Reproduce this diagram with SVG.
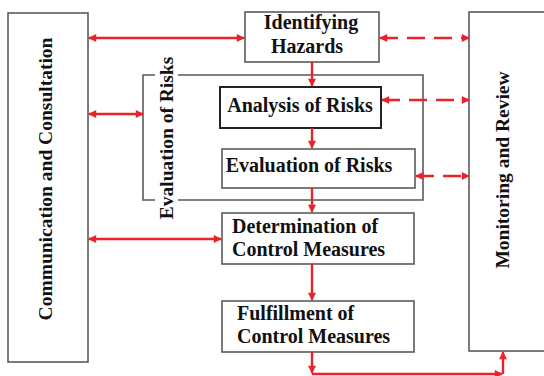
<svg xmlns="http://www.w3.org/2000/svg" width="544" height="376" viewBox="0 0 544 376">
<defs>
<style>
.box{fill:#fff;stroke:#5a5a5a;stroke-width:1.6}
.dark{fill:#fff;stroke:#222;stroke-width:2}
.t{font-family:"Liberation Serif","Times New Roman",serif;font-weight:bold;font-size:19.5px;fill:#111}
.b{font-size:20px}
.c{stroke:#e8232a;stroke-width:2.4;fill:none}
.d{stroke:#e8232a;stroke-width:2.4;fill:none;stroke-dasharray:18 9}
</style>
<marker id="ah" viewBox="0 0 10 10" refX="9" refY="5" markerWidth="9" markerHeight="8" markerUnits="userSpaceOnUse" orient="auto-start-reverse">
<path d="M0,0 L10,5 L0,10 z" fill="#e8232a"/>
</marker>
</defs>
<rect width="544" height="376" fill="#fff"/>

<g id="communication">
<rect class="box" x="8" y="13" width="80" height="349"/>
<text class="t" transform="translate(52,179) rotate(-90)" text-anchor="middle">Communication and Consultation</text>
</g>

<g id="monitoring">
<rect class="box" x="469" y="12" width="100" height="339"/>
<text class="t" transform="translate(509,170) rotate(-90)" text-anchor="middle">Monitoring and Review</text>
</g>

<g id="evaluation-group">
<path class="box" fill="none" d="M155,75 H143 V200 H155 M178,75 H423 V200 H178"/>
<text class="t" transform="translate(173,138) rotate(-90)" text-anchor="middle">Evaluation of Risks</text>
</g>

<g id="identifying">
<rect class="box" x="245" y="12" width="134" height="50"/>
<text class="t b" x="311" y="29" text-anchor="middle">Identifying</text>
<text class="t b" x="307" y="53" text-anchor="middle">Hazards</text>
</g>

<g id="analysis">
<rect class="dark" x="220" y="87" width="161" height="41"/>
<text class="t b" x="300" y="112" text-anchor="middle">Analysis of Risks</text>
</g>

<g id="evaluation">
<rect class="box" x="222" y="149" width="193" height="39"/>
<text class="t b" x="309" y="172" text-anchor="middle">Evaluation of Risks</text>
</g>

<g id="determination">
<rect class="box" x="222" y="213" width="192" height="51"/>
<text class="t b" x="232" y="233">Determination of</text>
<text class="t b" x="232" y="256">Control Measures</text>
</g>

<g id="fulfillment">
<rect class="box" x="222" y="301" width="192" height="51"/>
<text class="t b" x="237" y="320">Fulfillment of</text>
<text class="t b" x="237" y="343">Control Measures</text>
</g>

<g id="connectors">
<line class="c" x1="89" y1="38" x2="244" y2="38" marker-start="url(#ah)" marker-end="url(#ah)"/>
<line class="c" x1="89" y1="114" x2="143" y2="114" marker-start="url(#ah)" marker-end="url(#ah)"/>
<line class="c" x1="89" y1="239" x2="221" y2="239" marker-start="url(#ah)" marker-end="url(#ah)"/>
<line class="d" x1="380" y1="38" x2="469" y2="38" marker-start="url(#ah)" marker-end="url(#ah)"/>
<line class="d" x1="382" y1="100" x2="469" y2="100" marker-start="url(#ah)" marker-end="url(#ah)"/>
<line class="d" x1="416" y1="176" x2="469" y2="176" marker-start="url(#ah)" marker-end="url(#ah)"/>
<line class="c" x1="312" y1="62" x2="312" y2="86" marker-end="url(#ah)"/>
<line class="c" x1="312" y1="128" x2="312" y2="148" marker-end="url(#ah)"/>
<line class="c" x1="312" y1="188" x2="312" y2="212" marker-end="url(#ah)"/>
<line class="c" x1="312" y1="264" x2="312" y2="300" marker-end="url(#ah)"/>
<line class="c" x1="312" y1="352" x2="312" y2="373" marker-end="url(#ah)"/>
<line class="c" x1="312" y1="374" x2="502" y2="374" marker-end="url(#ah)"/>
<line class="c" x1="503" y1="374" x2="503" y2="352" marker-end="url(#ah)"/>
</g>
</svg>
